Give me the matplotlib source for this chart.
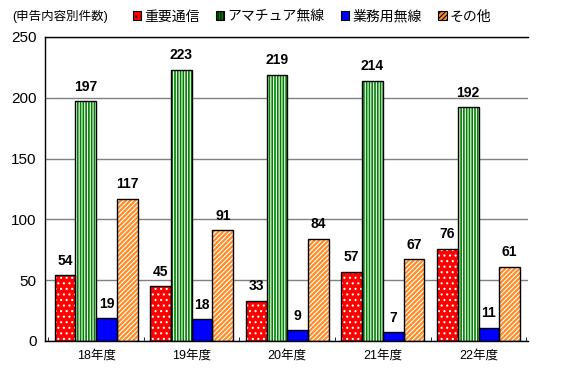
import numpy as np
import matplotlib
matplotlib.use("Agg")
import matplotlib.pyplot as plt
from matplotlib.patches import Patch

plt.rcParams['font.family'] = ['Liberation Sans', 'Noto Sans CJK JP', 'DejaVu Sans']
plt.rcParams['hatch.linewidth'] = 0.8

# data
years = ['18年度', '19年度', '20年度', '21年度', '22年度']
series_names = ['重要通信', 'アマチュア無線', '業務用無線', 'その他']
juyo = [54, 45, 33, 57, 76]
amateur = [197, 223, 219, 214, 192]
gyomu = [19, 18, 9, 7, 11]
sonota = [117, 91, 84, 67, 61]

values = [juyo, amateur, gyomu, sonota]
faces = ['#FF0000', '#008000', '#0000FF', '#FF8C26']
hatches = ['...', '||||||', '', '///////']
hatch_cols = ['white', 'white', 'white', 'white']

fig = plt.figure(figsize=(5.62, 3.73), dpi=100)
ax = fig.add_axes([0.080, 0.086, 0.860, 0.815])

x = np.arange(len(years))
w = 0.217
offsets = (np.arange(4) - 1.5) * w

for vals, off, fc, h, hc in zip(values, offsets, faces, hatches, hatch_cols):
    ax.bar(x + off, vals, w, color=fc, edgecolor=hc, hatch=h, linewidth=0, zorder=2)
    ax.bar(x + off, vals, w, facecolor='none', edgecolor='black', linewidth=1.0, zorder=3)
    for xi, v in zip(x + off, vals):
        ax.text(xi, v + 6, str(v), ha='center', va='bottom', fontsize=10,
                fontweight='bold', zorder=4)

ax.set_xlim(-0.534, 4.52)
ax.set_ylim(0, 250)
ax.set_yticks(range(0, 251, 50))
ax.tick_params(axis='y', length=0, labelsize=11, pad=6)
ax.set_xticks(x)
ax.set_xticklabels(years, fontsize=9)
ax.tick_params(axis='x', length=0, pad=6)
ax.set_xticks(np.arange(-0.5, 4.6, 1), minor=True)
ax.tick_params(axis='x', which='minor', direction='in', length=3)

ax.grid(axis='y', color='#808080', linewidth=1.0, zorder=0)
ax.set_axisbelow(True)
ax.spines['right'].set_visible(False)
for s in ['top', 'left', 'bottom']:
    ax.spines[s].set_color('black')
    ax.spines[s].set_linewidth(1.0)

fig.text(0.022, 0.955, '(申告内容別件数)', fontsize=9, va='center', ha='left')

handles = [Patch(facecolor=fc, edgecolor=hc, hatch=h) for fc, h, hc in zip(faces, hatches, hatch_cols)]
leg = fig.legend(handles, series_names, loc='center', bbox_to_anchor=(0.555, 0.955),
                 ncol=4, frameon=False, fontsize=10, handlelength=0.6,
                 handleheight=0.6, handletextpad=0.2, columnspacing=1.2)
for p in leg.get_patches():
    p.set_edgecolor('black')
    p.set_linewidth(0.8)

fig.savefig('out.png', dpi=100)
